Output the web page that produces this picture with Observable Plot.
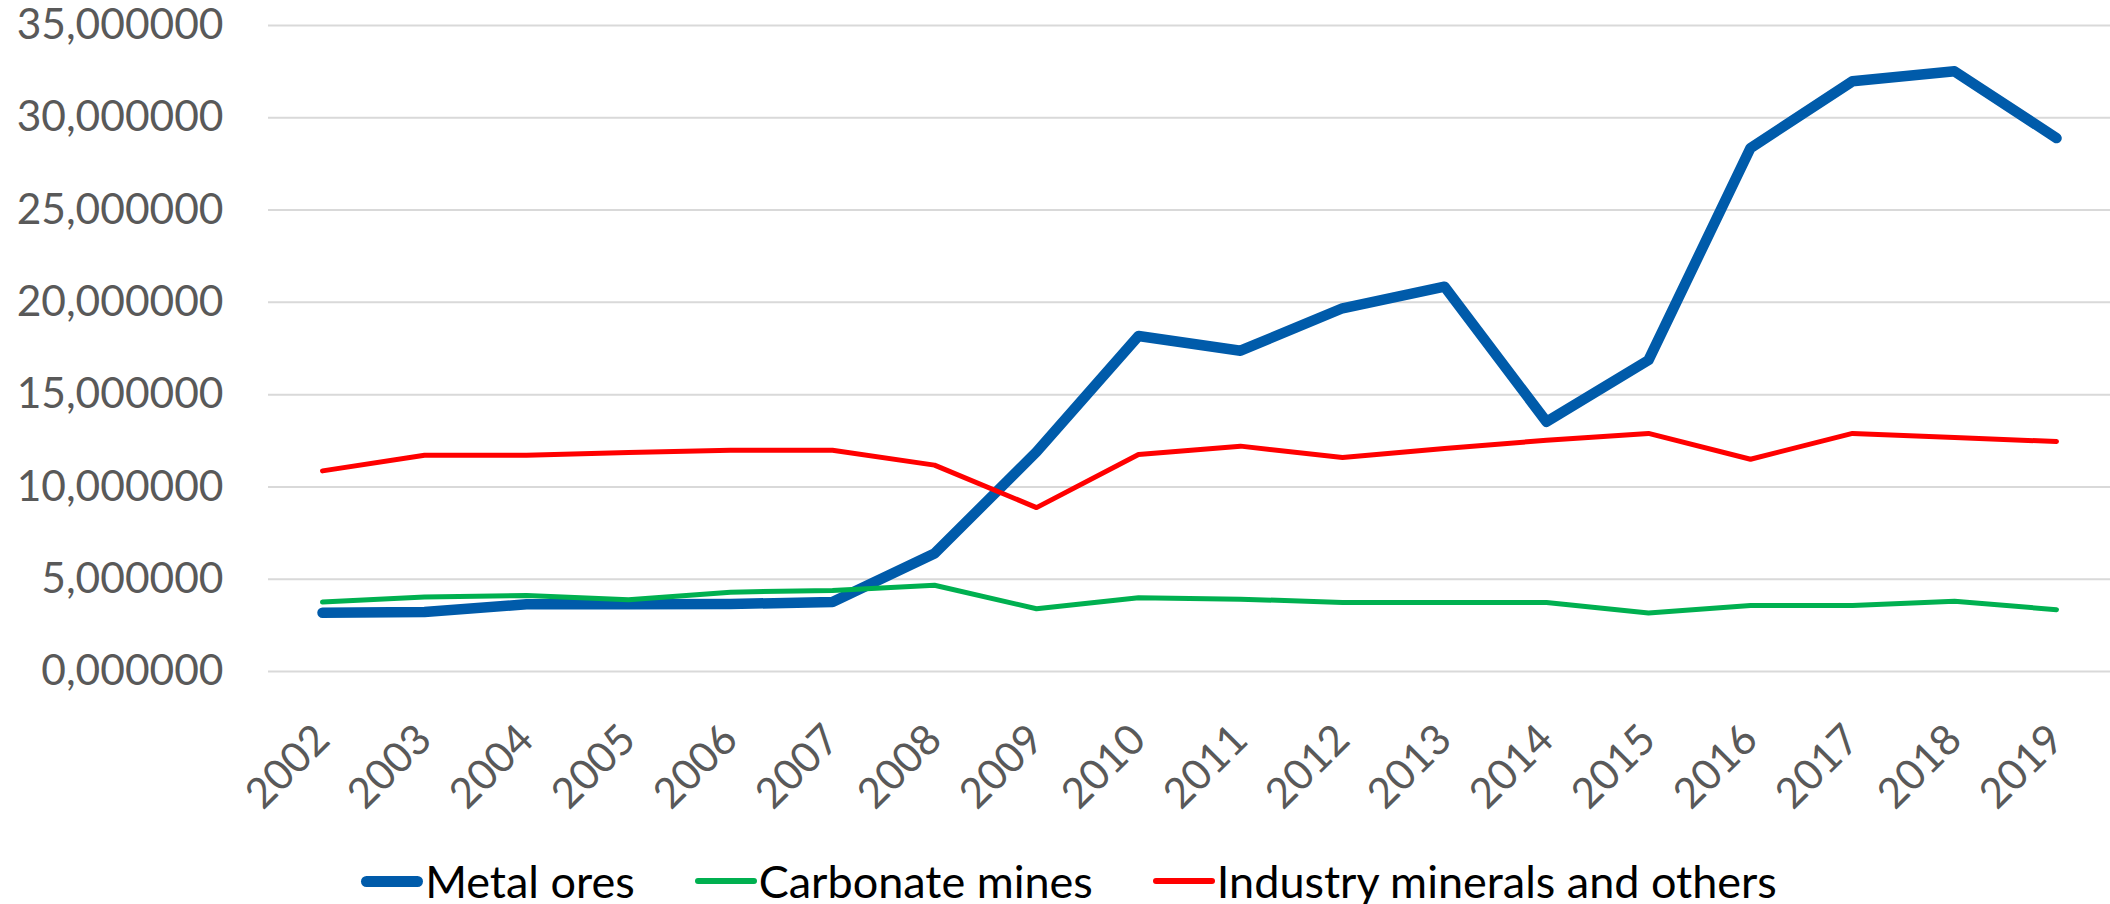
<!DOCTYPE html>
<html>
<head>
<meta charset="utf-8">
<script src="https://cdn.jsdelivr.net/npm/d3@7"></script>
<script src="https://cdn.jsdelivr.net/npm/@observablehq/plot@0.6"></script>
<style>
  html, body { margin: 0; padding: 0; background: #fff; }
  body { width: 2110px; height: 904px; overflow: hidden; font-family: Lato, "Open Sans", sans-serif; }
  #legend { display: flex; justify-content: center; align-items: center; height: 102px; margin-left: 28px; }
  .item { display: flex; align-items: center; margin: 0 30px; }
  .sw { width: 62px; border-radius: 6px; margin-right: 2px; }
  .lbl { font-size: 45px; color: #000; line-height: 1; white-space: nowrap; }
</style>
</head>
<body>
<div id="chart"></div>
<div id="legend"></div>
<script>
const years = [2002, 2003, 2004, 2005, 2006, 2007, 2008, 2009, 2010, 2011, 2012, 2013, 2014, 2015, 2016, 2017, 2018, 2019];
const metalOres = [3.18, 3.22, 3.64, 3.64, 3.66, 3.76, 6.39, 11.9, 18.18, 17.38, 19.68, 20.85, 13.53, 16.87, 28.36, 31.98, 32.52, 28.9];
const carbonateMines = [3.76, 4.03, 4.12, 3.89, 4.3, 4.39, 4.67, 3.4, 4.0, 3.92, 3.74, 3.74, 3.74, 3.17, 3.57, 3.58, 3.8, 3.35];
const industryMinerals = [10.87, 11.72, 11.72, 11.87, 11.99, 11.99, 11.18, 8.88, 11.76, 12.21, 11.59, 12.08, 12.53, 12.9, 11.5, 12.9, 12.68, 12.46];
const seriesNames = ["Metal ores", "Carbonate mines", "Industry minerals and others"];
const yTicks = [0, 5, 10, 15, 20, 25, 30, 35];

const colors = ["#005BAA", "#00B050", "#FF0000"];
const widths = [10.5, 5, 5];
const seriesValues = [metalOres, carbonateMines, industryMinerals];

const rows = seriesValues.map((vals, s) => years.map((yr, i) => ({year: String(yr), value: vals[i], series: seriesNames[s]})));

const fmt = d => d.toFixed(6).replace(".", ",");

const chart = Plot.plot({
  width: 2110,
  height: 830,
  marginTop: 25,
  marginBottom: 159,
  marginLeft: 268,
  marginRight: 0,
  style: {fontFamily: "Lato, 'Open Sans', sans-serif", background: "#fff", overflow: "visible"},
  x: {type: "point", domain: years.map(String), padding: 0.5},
  y: {domain: [0, 35]},
  marks: [
    Plot.gridY(yTicks, {stroke: "#d9d9d9", strokeOpacity: 1, strokeWidth: 2}),
    Plot.axisY(yTicks, {tickSize: 0, tickPadding: 45, fontSize: 42.5, color: "#595959", tickFormat: fmt, label: null}),
    Plot.axisX({tickSize: 0, tickRotate: -45, tickPadding: 61, fontSize: 42, color: "#595959", label: null}),
    ...rows.map((r, s) => Plot.lineY(r, {x: "year", y: "value", stroke: colors[s], strokeWidth: widths[s], strokeLinecap: "round", strokeLinejoin: "round"}))
  ]
});
document.getElementById("chart").appendChild(chart);

const legend = document.getElementById("legend");
seriesNames.forEach((name, s) => {
  const item = document.createElement("div");
  item.className = "item";
  const sw = document.createElement("div");
  sw.className = "sw";
  sw.style.background = colors[s];
  sw.style.height = (s === 0 ? 11 : 6) + "px";
  const lbl = document.createElement("span");
  lbl.className = "lbl";
  lbl.textContent = name;
  item.appendChild(sw);
  item.appendChild(lbl);
  legend.appendChild(item);
});
</script>
</body>
</html>
